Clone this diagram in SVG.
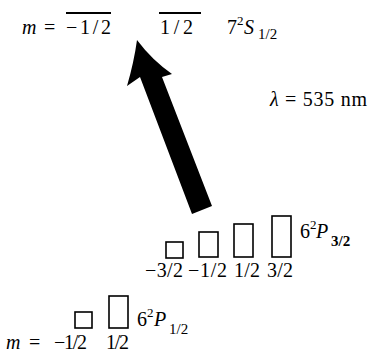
<svg xmlns="http://www.w3.org/2000/svg" width="370" height="352" viewBox="0 0 370 352">
<style>
text{font-family:"Liberation Serif","Times New Roman",serif;fill:#000;}
.t{font-size:20px;}
.b{font-size:20px;}
.i{font-style:italic;}
.sup{font-size:13px;}
.sub{font-size:15px;}
.lvl{stroke:#000;stroke-width:1.8;fill:none;}
.box{stroke:#000;stroke-width:1.6;fill:#fff;}
</style>
<rect width="370" height="352" fill="#fff"/>
<g id="level-7S">
<text class="t i" x="22" y="34">m</text>
<text class="t" x="44" y="34">=</text>
<line class="lvl" x1="66" y1="13" x2="111" y2="13"/>
<text class="t" x="66" y="34" textLength="45" lengthAdjust="spacing">−1/2</text>
<line class="lvl" x1="159" y1="13" x2="201" y2="13"/>
<text class="t" x="160" y="34" textLength="33" lengthAdjust="spacing">1/2</text>
<text class="t" x="227" y="34">7</text>
<text class="sup" x="237" y="25">2</text>
<text class="t i" x="244" y="34">S</text>
<text class="sub" x="258" y="39">1/2</text>
</g>
<g id="wavelength">
<text class="b" x="270" y="106" textLength="97" lengthAdjust="spacing"><tspan class="i">λ</tspan> = 535 nm</text>
</g>
<g id="connectors">
<path d="M137,40 Q152,60 172,74 L162,77 L212,206 L192,214 L140,77 L127,86 Q134,62 137,40 Z" fill="#000"/>
</g>
<g id="level-6P32">
<rect class="box" x="166" y="242" width="17" height="16"/>
<rect class="box" x="199" y="232" width="19" height="25"/>
<rect class="box" x="234" y="224" width="19" height="33"/>
<rect class="box" x="272" y="216" width="19" height="41"/>
<text class="b" x="145" y="277" textLength="38" lengthAdjust="spacing">−3/2</text>
<text class="b" x="188" y="277" textLength="39" lengthAdjust="spacing">−1/2</text>
<text class="b" x="234" y="277" textLength="26" lengthAdjust="spacing">1/2</text>
<text class="b" x="267" y="277" textLength="26" lengthAdjust="spacing">3/2</text>
<text class="b" x="300" y="238">6</text>
<text class="sup" x="310" y="229">2</text>
<text class="b i" x="316" y="238">P</text>
<text class="sub" x="331" y="246" font-weight="bold">3/2</text>
</g>
<g id="level-6P12">
<rect class="box" x="75" y="312" width="17" height="16"/>
<rect class="box" x="109" y="296" width="19" height="32"/>
<text class="t i" x="6" y="349">m</text>
<text class="t" x="29" y="349">=</text>
<text class="t" x="54" y="349" textLength="33" lengthAdjust="spacing">−1/2</text>
<text class="t" x="106" y="349" textLength="23" lengthAdjust="spacing">1/2</text>
<text class="t" x="137" y="326">6</text>
<text class="sup" x="147" y="317">2</text>
<text class="t i" x="154" y="326">P</text>
<text class="sub" x="169" y="334">1/2</text>
</g>
</svg>
